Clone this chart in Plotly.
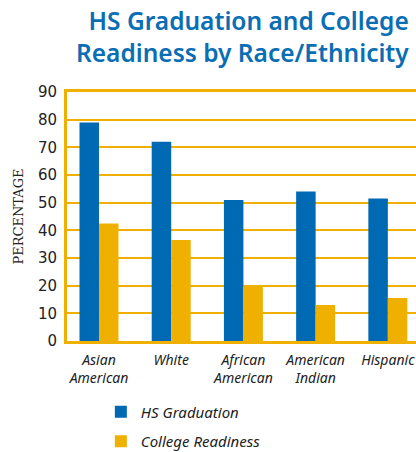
import plotly.graph_objects as go

categories = ['Asian<br>American', 'White', 'African<br>American', 'American<br>Indian', 'Hispanic']
hs_graduation = [79, 72, 51, 54, 51.5]
college_readiness = [42.5, 36.5, 20, 13, 15.5]

BLUE = '#0069B4'
GOLD = '#F0B000'

fig = go.Figure()

fig.add_trace(go.Bar(
    x=categories,
    y=hs_graduation,
    name='HS Graduation',
    marker=dict(color=BLUE, line=dict(width=0)),
    legendgroup='hs'
))

fig.add_trace(go.Bar(
    x=categories,
    y=college_readiness,
    name='College Readiness',
    marker=dict(color=GOLD, line=dict(width=0)),
    legendgroup='cr'
))

# title as an annotation so both lines are placed from the top
fig.add_annotation(
    text='HS Graduation and College<br>Readiness by Race/Ethnicity',
    xref='paper', yref='paper',
    x=0.985, y=1.36,
    xanchor='right', yanchor='top',
    align='right',
    showarrow=False,
    font=dict(family='Noto Sans', size=24.5, color='#0A6EB4', weight=600),
)

fig.update_layout(
    width=416,
    height=452,
    margin=dict(l=67, r=0, t=92, b=111, autoexpand=False),
    paper_bgcolor='white',
    plot_bgcolor='white',
    barmode='group',
    bargap=0.46,
    bargroupgap=0,
    legend=dict(
        x=0.097, xanchor='left',
        y=-0.219, yanchor='top',
        orientation='v',
        font=dict(family='Noto Sans', size=15, color='#222', style='italic'),
        tracegroupgap=7,
        traceorder='grouped',
    ),
    xaxis=dict(
        range=[-0.443, 4.39],
        showline=True, linecolor=GOLD, linewidth=3, mirror=True,
        showgrid=False, ticks='',
        ticklabelstandoff=4,
        tickfont=dict(family='Noto Sans', size=14, color='#222', style='italic'),
    ),
    yaxis=dict(
        range=[0, 90],
        dtick=10,
        showline=True, linecolor=GOLD, linewidth=3,
        showgrid=True, gridcolor=GOLD, gridwidth=1.5,
        zeroline=False,
        ticks='',
        ticklabelstandoff=4,
        tickfont=dict(family='DejaVu Sans', size=15, color='#222'),
        title=dict(
            text='PERCENTAGE',
            font=dict(family='DejaVu Serif', size=13, color='#222'),
            standoff=12,
        ),
    ),
)

fig.write_html('out.html', config={'displayModeBar': False},
               post_script="document.body.style.margin='0';")
